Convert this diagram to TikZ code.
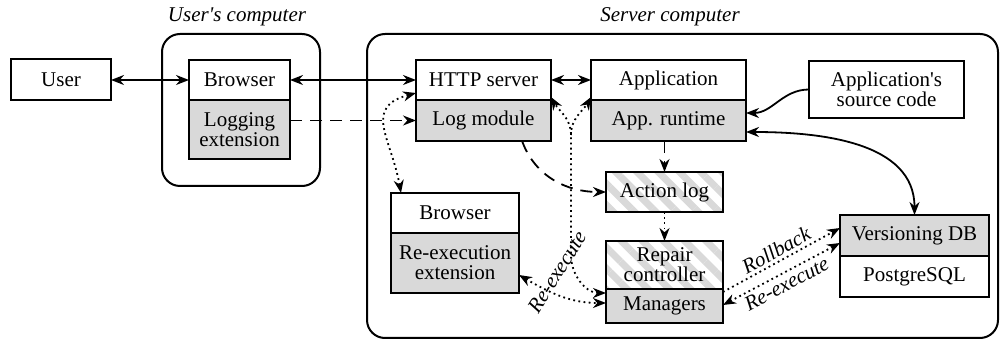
\documentclass[tikz,border=0pt]{standalone}
\usepackage{fontspec}
\setmainfont{Liberation Serif}
\usetikzlibrary{arrows.meta,positioning,patterns.meta}

\definecolor{boxgray}{gray}{0.85}
\newcommand\boxfont{\fontsize{10.5pt}{10pt}\selectfont}

\tikzset{
  box/.style={draw, line width=1pt, align=center, inner sep=0pt, outer sep=0pt, font=\boxfont},
  shaded/.style={fill=boxgray},
  hatched/.style={pattern={Lines[angle=-45, distance=7.5pt, line width=3.5pt]}, pattern color=boxgray},
  frame/.style={draw, line width=1pt, rounded corners=9pt},
  frametitle/.style={font=\boxfont\itshape, inner sep=1pt},
  edgelabel/.style={font=\boxfont\itshape, inner sep=1.5pt},
  link/.style={line width=0.9pt},
  dashlink/.style={line width=0.9pt, dash pattern=on 6pt off 4pt},
  dotlink/.style={line width=0.9pt, dash pattern=on 0.9pt off 1.7pt},
}

\begin{document}
\begin{tikzpicture}[x=0.5pt, y=0.5pt, >={Stealth[length=6.5pt, width=5pt]}]
\useasboundingbox (0,0) rectangle (1000,-341);

% machines
\draw[frame] (162,-34) rectangle (320,-186);
\draw[frame] (367,-34) rectangle (998,-338);
\node[frametitle] (usertitle) at (237,-17) {User\textquotesingle s computer};
\node[frametitle] (servertitle) at (670,-17) {Server computer};

% user side
\node[box, minimum width=50pt, minimum height=20.5pt] (user) at (61,-80) {User};
\node[box, minimum width=50.5pt, minimum height=20pt] (ubrowser) at (239.5,-80) {Browser};
\node[box, shaded, below=0pt of ubrowser, minimum width=50.5pt, minimum height=29.5pt] (logext) {Logging\\extension};

% server side
\node[box, minimum width=67.5pt, minimum height=20pt] (http) at (483.5,-80) {HTTP server};
\node[box, shaded, below=0pt of http, minimum width=67.5pt, minimum height=20.5pt] (logmod) {Log module};
\node[box, minimum width=77.5pt, minimum height=20pt] (app) at (668.5,-80) {Application};
\node[box, shaded, below=0pt of app, minimum width=77.5pt, minimum height=20.5pt] (runtime) {App. runtime};
\node[box, minimum width=77.5pt, minimum height=28.5pt] (source) at (886.5,-89.5) {Application\textquotesingle s\\source code};
\node[box, hatched, minimum width=58.5pt, minimum height=20pt] (actlog) at (664.5,-192) {Action log};
\node[box, hatched, minimum width=58.5pt, minimum height=24pt] (repair) at (664.5,-265) {Repair\\controller};
\node[box, shaded, below=0pt of repair, minimum width=58.5pt, minimum height=17pt] (managers) {Managers};
\node[box, minimum width=64pt, minimum height=20pt] (sbrowser) at (455,-213) {Browser};
\node[box, shaded, below=0pt of sbrowser, minimum width=64pt, minimum height=30pt] (reexec) {Re-execution\\extension};
\node[box, shaded, minimum width=74.5pt, minimum height=20.5pt] (versdb) at (914.5,-235.5) {Versioning DB};
\node[box, below=0pt of versdb, minimum width=74.5pt, minimum height=20.5pt] (pgsql) {PostgreSQL};

% solid and dashed connectors
\draw[link, <->] (user) -- (ubrowser);
\draw[link, <->] (ubrowser) -- (http);
\draw[link, <->] (http) -- (app);
\draw[dashlink, ->] (logext.east |- logmod.west) -- (logmod.west);
\draw[link, ->] (source.west) to[out=180, in=0] ([yshift=3.75pt]runtime.east);
\draw[link, <->] ([yshift=-5.75pt]runtime.east) to[out=0, in=90] (versdb.north);
\draw[dashlink, ->] (runtime.south -| actlog.north) -- (actlog.north);
\draw[dashlink, ->] (logmod.-28) to[out=-70, in=180] (actlog.west);
\draw[dotlink, ->] (actlog) -- (repair);

% re-execution paths
\coordinate (forkbot) at (571,-255);
\coordinate (forktop) at (571,-135);
\draw[dotlink, <->] ([yshift=-6.5pt]http.west) to[out=195, in=100, looseness=1.4] ([xshift=5pt]sbrowser.north west);
\draw[dotlink, <->] ([yshift=6.5pt]managers.west) to[out=180, in=-90] (forkbot) -- (forktop) to[out=90, in=-60] ([yshift=-8.5pt]http.east);
\draw[dotlink, ->] (forktop) to[out=90, in=-120] ([yshift=-8.5pt]app.west);
\node[edgelabel, rotate=58] (reexeclbl) at (557,-272) {Re-execute};
\draw[dotlink, <->] ([yshift=-6pt]reexec.east) to[out=-30, in=180] ([yshift=1.5pt]managers.west);
\draw[dotlink, ->] ([yshift=7pt]managers.east) -- ([yshift=3.75pt]versdb.west) node[edgelabel, midway, above, sloped] {Rollback};
\draw[dotlink, <->] ([yshift=0.5pt]managers.east) -- ([yshift=-3.75pt]versdb.west) node[edgelabel, midway, below, sloped] {Re-execute};
\end{tikzpicture}
\end{document}
